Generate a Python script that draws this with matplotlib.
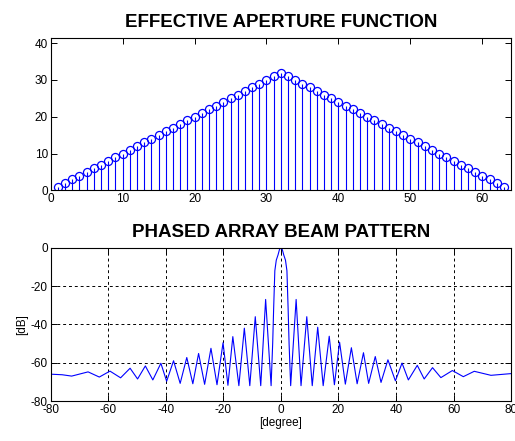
import matplotlib
matplotlib.use("Agg")
import matplotlib.pyplot as plt

plt.rcParams['font.family'] = ['Liberation Sans', 'DejaVu Sans']
plt.rcParams['axes.unicode_minus'] = False

# ---- Effective aperture (stem) data ----
element_index = [1, 2, 3, 4, 5, 6, 7, 8, 9, 10, 11, 12, 13, 14, 15, 16, 17, 18, 19, 20,
                 21, 22, 23, 24, 25, 26, 27, 28, 29, 30, 31, 32, 33, 34, 35, 36, 37, 38,
                 39, 40, 41, 42, 43, 44, 45, 46, 47, 48, 49, 50, 51, 52, 53, 54, 55, 56,
                 57, 58, 59, 60, 61, 62, 63]
aperture_weight = [1, 2, 3, 4, 5, 6, 7, 8, 9, 10, 11, 12, 13, 14, 15, 16, 17, 18, 19, 20,
                   21, 22, 23, 24, 25, 26, 27, 28, 29, 30, 31, 32, 31, 30, 29, 28, 27, 26,
                   25, 24, 23, 22, 21, 20, 19, 18, 17, 16, 15, 14, 13, 12, 11, 10, 9, 8,
                   7, 6, 5, 4, 3, 2, 1]

# ---- Beam pattern data ----
beam_angle_deg = [-80, -76, -72.7, -67, -63.1, -59.4, -55.7, -52.4, -49.8, -47.1,
                  -44.5, -41.7, -39.7, -37.3, -35.0, -32.7, -30.6, -28.6, -26.5, -24.3,
                  -22.2, -20.1, -18.4, -16.7, -14.6, -12.7, -10.8, -8.9, -7.0, -5.3,
                  -3.4, -2.85, -2.5, -2.1, -1.6, -1.0, -0.5, 0.0,
                  0.5, 1.0, 1.6, 2.1, 2.5, 2.85, 3.4,
                  5.3, 7.0, 9.0, 10.9, 12.8, 14.7, 16.8, 18.6, 20.4, 22.4,
                  24.5, 26.5, 28.7, 30.5, 32.8, 34.8, 37.2, 39.8, 42.1, 44.3,
                  47.4, 49.8, 52.7, 55.6, 59.6, 63.4, 67.2, 73.0, 80.0]
beam_level_db = [-66, -66.3, -67, -64.8, -67.5, -64.4, -67.9, -62.9, -68.5, -61.7,
                 -69, -60.3, -69.7, -59, -70.8, -57.3, -71, -55.2, -71.3, -52.5,
                 -71.5, -49.6, -71.8, -46.4, -72, -42, -72, -36, -72, -27,
                 -72, -50, -31, -12, -6.5, -3.8, -1.0, 0.0,
                 -1.0, -3.8, -6.5, -12, -31, -50, -72,
                 -27, -72, -36, -72, -41.5, -72, -46.2, -71.5, -49.3, -71.2,
                 -52.2, -71, -54.8, -70.8, -56.8, -70.3, -58.5, -69.5, -60.2, -69,
                 -61.4, -68.5, -62.6, -67.8, -64.1, -67.3, -64.5, -66.6, -65.7]

top_xticks = [0, 10, 20, 30, 40, 50, 60]
top_yticks = [0, 10, 20, 30, 40]
bot_xticks = [-80, -60, -40, -20, 0, 20, 40, 60, 80]
bot_yticks = [-80, -60, -40, -20, 0]

BLUE = '#0000FF'

fig = plt.figure(figsize=(5.15, 4.41), dpi=100)
fig.patch.set_facecolor('white')

ax1 = fig.add_axes([0.0984, 0.5685, 0.894, 0.346])
ax2 = fig.add_axes([0.0984, 0.0907, 0.894, 0.3476])

# Top: stem plot
mk, st, bl = ax1.stem(element_index, aperture_weight, linefmt='-', markerfmt='o', basefmt=' ')
plt.setp(st, color=BLUE, linewidth=0.8)
plt.setp(mk, markerfacecolor='none', markeredgecolor=BLUE, markersize=5.8, markeredgewidth=0.9)
bl.set_visible(False)
ax1.set_xlim(0, 64)
ax1.set_ylim(0, 41.5)
ax1.set_xticks(top_xticks)
ax1.set_yticks(top_yticks)
ax1.set_title('EFFECTIVE APERTURE FUNCTION', fontsize=13.5, fontweight='bold', pad=8)

# Bottom: beam pattern
ax2.plot(beam_angle_deg, beam_level_db, color=BLUE, linewidth=0.8)
ax2.set_xlim(-80, 80)
ax2.set_ylim(-80, 0)
ax2.set_xticks(bot_xticks)
ax2.set_yticks(bot_yticks)
ax2.grid(True, color='black', linestyle=(0, (3, 3)), linewidth=0.7)
ax2.set_title('PHASED ARRAY BEAM PATTERN', fontsize=13.5, fontweight='bold', pad=8)
ax2.set_xlabel('[degree]', fontsize=8.5, labelpad=1)
ax2.set_ylabel('[dB]', fontsize=8.5, labelpad=2)

for ax in (ax1, ax2):
    ax.tick_params(direction='in', length=4, width=0.7, labelsize=8.5, pad=2,
                   top=True, right=True)
    for s in ax.spines.values():
        s.set_linewidth(0.8)
        s.set_color('black')

fig.savefig('out.png', dpi=100)
